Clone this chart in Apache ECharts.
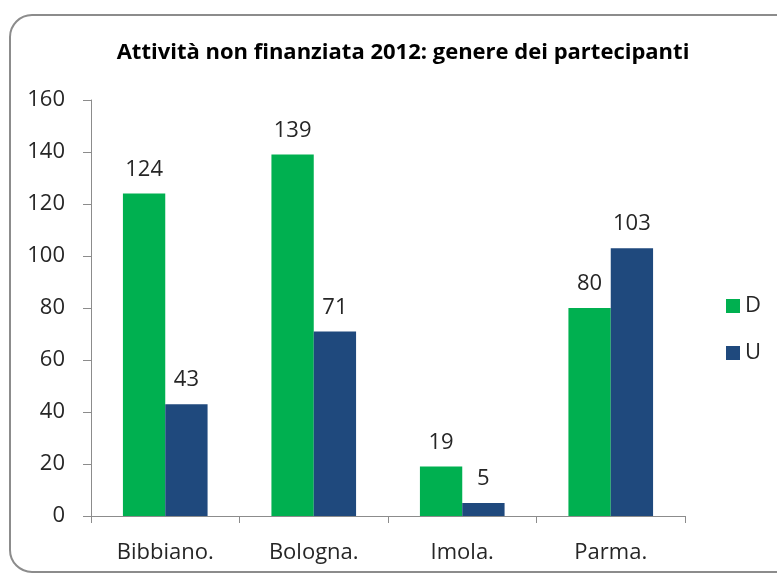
<!DOCTYPE html>
<html><head><meta charset="utf-8">
<script src="https://cdn.jsdelivr.net/npm/echarts@6/dist/echarts.min.js"></script>
<style>html,body{margin:0;padding:0;background:#fff}#c{width:777px;height:574px}</style>
</head><body><div id="c"></div>
<script>
const categories = ['Bibbiano.', 'Bologna.', 'Imola.', 'Parma.'];
const seriesD = [124, 139, 19, 80];
const seriesU = [43, 71, 5, 103];
const seriesNames = ['D', 'U'];
const yTicks = { min: 0, max: 160, interval: 20 };

const FONT = '"Open Sans", "Noto Sans", sans-serif';
const chart = echarts.init(document.getElementById('c'), null, { renderer: 'canvas' });
const labelStyle = { show: true, position: 'top', distance: 13, fontFamily: FONT, fontSize: 22, color: '#262626' };
chart.setOption({
  animation: false,
  backgroundColor: '#fff',
  graphic: [{
    type: 'rect', left: 9, top: 14, z: -1,
    shape: { width: 790, height: 557, r: 22 },
    style: { fill: '#fff', stroke: '#8c8c8c', lineWidth: 2 }
  }],
  title: {
    text: 'Attività non finanziata 2012: genere dei partecipanti',
    left: 398, top: 37, textAlign: 'center',
    textStyle: { fontFamily: FONT, fontSize: 22, fontWeight: 'bold', color: '#000' }
  },
  legend: {
    orient: 'vertical', left: 721, top: 290,
    itemWidth: 14, itemHeight: 14, itemGap: 25,
    icon: 'rect',
    textStyle: { fontFamily: FONT, fontSize: 22, color: '#262626', padding: [0, 0, 0, 0] },
    data: seriesNames
  },
  grid: { left: 91, right: 92, top: 100, bottom: 58, containLabel: false },
  xAxis: {
    type: 'category', data: categories,
    axisLine: { lineStyle: { color: '#8c8c8c', width: 1 } },
    axisTick: { show: true, length: 7, lineStyle: { color: '#8c8c8c' } },
    axisLabel: { fontFamily: FONT, fontSize: 22, color: '#262626', margin: 26 }
  },
  yAxis: {
    type: 'value', min: yTicks.min, max: yTicks.max, interval: yTicks.interval,
    axisLine: { show: true, lineStyle: { color: '#8c8c8c', width: 1 } },
    axisTick: { show: true, length: 8, lineStyle: { color: '#8c8c8c' } },
    splitLine: { show: false },
    axisLabel: { fontFamily: FONT, fontSize: 22, color: '#262626', margin: 26 }
  },
  series: [
    { name: seriesNames[0], type: 'bar', data: seriesD, barGap: '0%', barCategoryGap: '43%',
      itemStyle: { color: '#00B050' }, label: labelStyle },
    { name: seriesNames[1], type: 'bar', data: seriesU, barGap: '0%', barCategoryGap: '43%',
      itemStyle: { color: '#1F497D' }, label: labelStyle }
  ]
});
</script></body></html>
